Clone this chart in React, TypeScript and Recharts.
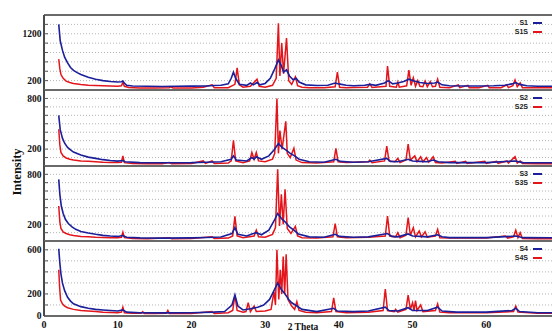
import { LineChart, Line, XAxis, YAxis, CartesianGrid, ReferenceLine } from "recharts";

type Pt = [number, number];

// 2θ (deg) vs intensity
const s1: Pt[] = [
  [2.0, 1400], [2.2, 1050], [2.5, 850], [2.8, 700], [3.2, 580], [3.6, 480], [4.0, 420], [4.5, 370], [5, 330],
  [6, 270], [7, 230], [8, 200], [9, 180], [10, 170], [10.5, 175], [10.7, 190], [10.9, 150], [11.2, 100], [12, 85],
  [14, 80], [16, 76], [18, 80], [20, 82], [22, 85], [23, 95], [24, 100], [25, 130], [25.4, 250], [25.7, 380],
  [26.0, 250], [26.5, 120], [27.5, 100], [28, 150], [28.4, 110], [28.9, 160], [29.3, 110], [30, 140], [30.7, 250],
  [31.3, 450], [31.8, 640], [32.2, 520], [32.5, 380], [32.9, 430], [33.3, 300], [33.8, 220], [34.2, 250],
  [34.6, 170], [35.5, 110], [37, 95], [38.5, 100], [39.5, 150], [40, 130], [41, 100], [42, 90], [43.5, 100],
  [44.2, 120], [45, 100], [46.2, 150], [46.7, 200], [47.3, 130], [48, 150], [48.8, 180], [49.5, 230], [50.2, 190],
  [51, 160], [52, 140], [53.0, 150], [53.4, 170], [54, 110], [55, 90], [57, 85], [59, 85], [61, 90], [62.5, 100],
  [63.5, 130], [64, 160], [64.5, 120], [65.5, 90], [67, 80], [70, 80],
];
const s1s: Pt[] = [
  [2.0, 660], [2.15, 450], [2.3, 330], [2.6, 250], [3.0, 190], [3.5, 160], [4, 140], [5, 115], [6, 100], [7, 95],
  [8, 90], [9, 85], [10, 80], [10.5, 90], [10.7, 160], [10.9, 80], [11.5, 55], [13, 45], [15, 45], [17, 50],
  [17.2, 70], [17.5, 45], [20, 45], [21.6, 60], [22.8, 110], [23.1, 50], [25, 50], [25.9, 120], [26.2, 470],
  [26.5, 110], [27, 60], [28, 80], [28.9, 230], [29.2, 80], [30, 60], [31, 100], [31.5, 250], [31.8, 1425],
  [32.0, 300], [32.25, 1000], [32.5, 350], [32.9, 1110], [33.2, 200], [33.6, 120], [34.1, 280], [34.4, 90],
  [35, 60], [36, 50], [38, 50], [39.5, 70], [39.8, 380], [40.1, 60], [41, 50], [42, 55], [43.9, 60], [44.2, 130],
  [44.5, 55], [46.4, 80], [46.6, 510], [46.9, 80], [47.8, 60], [48.0, 170], [48.2, 60], [49.2, 90], [49.5, 425],
  [49.8, 100], [50.1, 260], [50.4, 80], [50.7, 200], [51.0, 80], [51.4, 70], [51.7, 190], [52.0, 70], [52.4, 180],
  [52.7, 70], [53.1, 80], [53.4, 230], [53.7, 60], [55, 50], [56.2, 110], [56.4, 50], [57.5, 100], [57.7, 50],
  [59, 50], [60.2, 100], [60.4, 50], [62, 50], [62.8, 110], [63.0, 50], [63.6, 90], [63.9, 213], [64.2, 70],
  [64.6, 150], [64.9, 50], [66, 50], [70, 45],
];
const s2: Pt[] = [
  [2.0, 600], [2.2, 430], [2.5, 330], [2.8, 270], [3.2, 220], [3.6, 190], [4.0, 165], [5, 130], [6, 105], [7, 90],
  [8, 75], [9, 65], [10, 58], [10.7, 65], [11, 50], [13, 40], [16, 38], [20, 40], [22, 45], [24, 50], [25.4, 80],
  [25.7, 120], [26.1, 70], [27.5, 60], [28.2, 100], [28.5, 80], [28.8, 110], [29.5, 80], [30.5, 120], [31.2, 190],
  [31.8, 265], [32.3, 220], [32.8, 190], [33.4, 150], [34.0, 120], [34.6, 80], [36, 50], [38, 45], [39.6, 80],
  [40.2, 55], [42, 45], [44, 50], [46.5, 90], [47, 55], [48, 50], [49.4, 80], [50, 60], [51, 55], [52, 50],
  [52.8, 70], [53.5, 50], [55, 40], [60, 40], [63.9, 60], [65, 40], [70, 38],
];
const s2s: Pt[] = [
  [2.0, 435], [2.15, 250], [2.3, 160], [2.6, 120], [3, 95], [3.5, 80], [4, 70], [5, 60], [6, 55], [7, 50], [8, 45],
  [9, 42], [10, 40], [10.5, 45], [10.7, 120], [10.9, 40], [12, 30], [14, 28], [16, 28], [17, 40], [17.3, 28],
  [20, 30], [21.6, 60], [21.9, 30], [22.8, 60], [23.1, 30], [25, 35], [25.4, 60], [25.7, 305], [26.0, 60],
  [27, 40], [27.9, 60], [28.2, 160], [28.5, 80], [28.8, 160], [29.1, 60], [30, 50], [31, 80], [31.3, 150],
  [31.6, 800], [31.8, 150], [32.0, 420], [32.3, 200], [32.8, 530], [33.0, 150], [33.4, 100], [33.9, 210],
  [34.2, 70], [35, 40], [37, 35], [39.3, 50], [39.6, 210], [39.9, 50], [41, 40], [42, 45], [44, 50], [44.2, 70],
  [44.5, 40], [46.2, 60], [46.5, 235], [46.8, 60], [47.6, 50], [48.0, 90], [48.3, 40], [49.1, 70], [49.4, 260],
  [49.7, 70], [50.3, 120], [50.6, 50], [51.1, 110], [51.4, 50], [51.9, 100], [52.2, 45], [52.8, 110], [53.1, 40],
  [54, 35], [55.8, 55], [56, 30], [57.2, 55], [57.4, 30], [59.8, 55], [60, 30], [61.4, 55], [61.6, 30],
  [62.8, 60], [63.0, 35], [63.9, 110], [64.2, 35], [64.6, 60], [64.9, 30], [67, 28], [70, 28],
];
const s3: Pt[] = [
  [2.0, 740], [2.15, 560], [2.35, 420], [2.6, 330], [2.9, 260], [3.3, 210], [3.8, 170], [4.3, 140], [5, 115],
  [6, 95], [7, 80], [8, 68], [9, 60], [10, 55], [10.7, 65], [11.2, 45], [13, 38], [16, 35], [20, 38], [22, 42],
  [24, 48], [25.5, 90], [25.9, 160], [26.3, 80], [27.5, 60], [28.2, 85], [28.8, 100], [29.5, 75], [30.5, 130],
  [31.2, 240], [31.7, 330], [32.2, 270], [32.7, 230], [33.3, 170], [33.9, 130], [34.5, 85], [36, 50], [38, 45],
  [39.5, 80], [40.1, 55], [42, 45], [44, 50], [46.6, 90], [47.2, 55], [48, 50], [49.4, 85], [50, 60], [51, 55],
  [52, 50], [53.4, 75], [54, 50], [55, 40], [60, 40], [64, 60], [65, 40], [70, 38],
];
const s3s: Pt[] = [
  [2.0, 420], [2.15, 230], [2.3, 150], [2.6, 110], [3, 90], [3.5, 75], [4, 65], [5, 55], [6, 50], [7, 45], [8, 42],
  [9, 40], [10, 38], [10.5, 45], [10.7, 105], [10.9, 40], [12, 30], [14, 28], [17, 40], [17.3, 28], [20, 30],
  [22.8, 50], [23.1, 30], [25, 35], [25.6, 60], [25.9, 295], [26.2, 60], [27, 40], [28.5, 60], [28.8, 130],
  [29.1, 50], [30, 45], [31, 80], [31.4, 160], [31.7, 860], [31.95, 180], [32.2, 560], [32.45, 200], [32.7, 620],
  [33.0, 150], [33.5, 90], [34.1, 175], [34.4, 60], [35, 40], [37, 35], [39.2, 50], [39.5, 210], [39.8, 50],
  [41, 40], [44, 45], [46.3, 60], [46.6, 300], [46.9, 60], [47.7, 50], [48.0, 100], [48.3, 40], [49.1, 70],
  [49.4, 280], [49.7, 70], [50.1, 160], [50.4, 50], [50.9, 120], [51.2, 50], [51.7, 110], [52.0, 45], [53.1, 60],
  [53.4, 140], [53.7, 40], [55, 35], [57, 40], [60, 35], [62.6, 60], [62.9, 35], [63.7, 50], [64.0, 130],
  [64.3, 40], [64.6, 100], [64.9, 30], [67, 28], [70, 28],
];
const s4: Pt[] = [
  [2.0, 610], [2.15, 480], [2.3, 380], [2.5, 300], [2.8, 230], [3.2, 170], [3.6, 135], [4, 110], [5, 85], [6, 70],
  [7, 60], [8, 55], [9, 50], [10, 45], [10.7, 55], [11.2, 35], [13, 30], [16, 28], [20, 30], [23, 35], [24.5, 40],
  [25.5, 100], [25.9, 190], [26.3, 90], [27, 55], [28, 65], [29, 80], [29.8, 100], [30.6, 150], [31.2, 230],
  [31.7, 300], [32.2, 240], [32.7, 200], [33.2, 150], [33.6, 120], [34.2, 95], [35, 60], [37, 40], [39.3, 70],
  [39.8, 45], [42, 40], [44, 45], [46.3, 80], [46.8, 50], [48, 45], [49.4, 75], [50, 50], [52, 50], [53.4, 80],
  [54, 45], [56, 35], [60, 35], [63.5, 50], [64, 70], [64.5, 40], [67, 30], [70, 30],
];
const s4s: Pt[] = [
  [2.0, 420], [2.12, 260], [2.25, 145], [2.5, 110], [2.8, 90], [3.2, 75], [4, 60], [5, 50], [6, 45], [7, 40],
  [8, 35], [9, 32], [10, 30], [10.5, 35], [10.7, 80], [10.9, 30], [12, 25], [13.2, 25], [13.4, 40], [13.6, 22],
  [15, 22], [16.6, 25], [16.8, 50], [17.0, 22], [20, 22], [22.8, 40], [23.1, 22], [25, 30], [25.6, 50],
  [25.9, 190], [26.2, 50], [27, 35], [27.4, 40], [27.7, 120], [28.0, 40], [28.5, 90], [28.8, 40], [30, 45],
  [30.8, 60], [31.2, 220], [31.4, 100], [31.6, 600], [31.85, 150], [32.05, 420], [32.25, 200], [32.45, 540],
  [32.65, 200], [32.85, 560], [33.1, 150], [33.6, 90], [34.0, 60], [34.3, 130], [34.6, 50], [35.5, 35], [37, 30],
  [39.0, 40], [39.3, 165], [39.6, 40], [41, 30], [44, 35], [46.0, 50], [46.3, 245], [46.6, 50], [47.5, 40],
  [47.7, 60], [48, 35], [49.1, 60], [49.4, 190], [49.7, 60], [50.0, 120], [50.2, 50], [50.4, 140], [50.6, 50],
  [51.1, 100], [51.4, 40], [53.1, 50], [53.4, 110], [53.7, 35], [55, 30], [60, 30], [63.7, 40], [64.0, 90],
  [64.3, 35], [67, 25], [70, 25],
];

const xTicks = [0, 10, 20, 30, 40, 50, 60];
const BLUE = "#1b1f9a";
const RED = "#e3151b";
const FRAME = "#6a6a6a";
const PLOT_LEFT = 44;

const toPts = (a: Pt[]) => a.map(([x, y]) => ({ x, y }));

interface PanelProps {
  top: number;
  plotH: number;
  yMax: number;
  step: number;
  labels: number[];
  blue: Pt[];
  red: Pt[];
  names: [string, string];
  bottom?: boolean;
}

function Panel({ top, plotH, yMax, step, labels, blue, red, names, bottom }: PanelProps) {
  const ticks: number[] = [];
  for (let v = 0; v <= yMax; v += step) ticks.push(v);
  const xH = bottom ? 22 : 0;

  // inward minor tick at each grid line, label only on a few
  const yTick = (p: any) => {
    const v = p.payload.value;
    return (
      <g>
        {v > 0 && v < yMax && <line x1={PLOT_LEFT} x2={PLOT_LEFT + 4} y1={p.y} y2={p.y} stroke="#555" strokeWidth={1} />}
        {labels.includes(v) && (
          <text x={41.5} y={p.y} dy="0.35em" textAnchor="end" fontSize={9.5} fontWeight="bold"
            fontFamily="'Liberation Serif', serif" fill="#111">
            {v}
          </text>
        )}
      </g>
    );
  };

  return (
    <div style={{ position: "absolute", left: 0, top: top - 2 }}>
      <LineChart width={560} height={plotH + 4 + xH - (bottom ? 2 : 0)} margin={{ top: 2, right: 0, bottom: bottom ? 0 : 2, left: 0 }}>
        <CartesianGrid vertical={false} stroke="#b4b4b4" strokeDasharray="1 2" />
        <XAxis
          type="number"
          dataKey="x"
          domain={[0, 70]}
          ticks={xTicks}
          hide={!bottom}
          height={xH}
          axisLine={false}
          tickLine={false}
          tickSize={3}
          tickMargin={2}
          tick={{ fontSize: 10, fontWeight: "bold", fontFamily: "'Liberation Serif', serif", fill: "#111" }}
        />
        <YAxis
          type="number"
          domain={[0, yMax]}
          ticks={ticks}
          width={PLOT_LEFT}
          tickLine={false}
          axisLine={{ stroke: "#4a4a4a", strokeWidth: 2 }}
          tick={yTick}
          interval={0}
        />
        <ReferenceLine y={yMax} stroke={FRAME} strokeWidth={2} />
        <ReferenceLine y={0} stroke={FRAME} strokeWidth={2} />
        <Line data={toPts(red)} dataKey="y" name={names[1]} type="linear" stroke={RED} strokeWidth={1.5} dot={false} isAnimationActive={false} />
        <Line data={toPts(blue)} dataKey="y" name={names[0]} type="linear" stroke={BLUE} strokeWidth={1.6} dot={false} isAnimationActive={false} />
      </LineChart>
      <div style={{ position: "absolute", right: 10 + 560 - 552, top: 5, fontFamily: "'Liberation Sans', Arial, sans-serif", fontSize: 7, fontWeight: "bold", color: "#222", lineHeight: "9px" }}>
        {[names[0], names[1]].map((n, i) => (
          <div key={n} style={{ display: "flex", alignItems: "center", justifyContent: "flex-end" }}>
            <span>{n}</span>
            <span style={{ display: "inline-block", width: 9, height: 2, marginLeft: 5, background: i === 0 ? BLUE : RED }} />
          </div>
        ))}
      </div>
    </div>
  );
}

export default function App() {
  return (
    <div style={{ position: "absolute", left: 0, top: 0, width: 552, height: 331, overflow: "hidden", background: "#fff" }}>
      <Panel top={15} plotH={75} yMax={1600} step={200} labels={[200, 1200]} blue={s1} red={s1s} names={["S1", "S1S"]} />
      <Panel top={90} plotH={76} yMax={900} step={100} labels={[200, 800]} blue={s2} red={s2s} names={["S2", "S2S"]} />
      <Panel top={166} plotH={75} yMax={900} step={100} labels={[200, 800]} blue={s3} red={s3s} names={["S3", "S3S"]} />
      <Panel top={241} plotH={75} yMax={680} step={100} labels={[0, 200, 600]} blue={s4} red={s4s} names={["S4", "S4S"]} bottom />
      <svg width={552} height={331} style={{ position: "absolute", left: 0, top: 0, pointerEvents: "none" }}>
        <text x={17} y={172} transform="rotate(-90 17 172)" textAnchor="middle" dominantBaseline="central"
          fontSize={12.5} fontWeight="bold" fontFamily="'Liberation Serif', serif" fill="#111">
          Intensity
        </text>
        <text x={303} y={330} textAnchor="middle" fontSize={9.5} fontWeight="bold" fontFamily="'Liberation Serif', serif" fill="#111">
          2 Theta
        </text>
      </svg>
    </div>
  );
}
